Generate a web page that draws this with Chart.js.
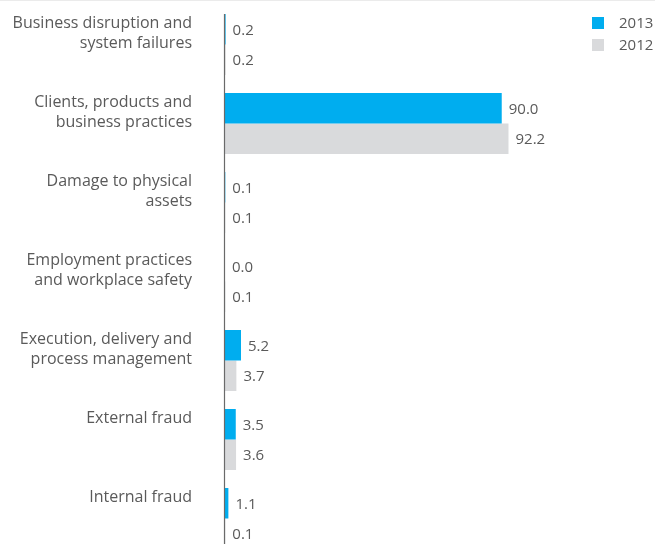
<!DOCTYPE html>
<html>
<head>
<meta charset="utf-8">
<script src="https://cdn.jsdelivr.net/npm/chart.js@4"></script>
<style>
	html, body { margin: 0; padding: 0; background: #fff; overflow: hidden; }
	#wrap { position: relative; width: 669px; height: 544px; overflow: hidden; }
	#topline { position: absolute; left: 0; top: 0; width: 655px; height: 1px; background: #ebebeb; }
	#chart-box { position: absolute; left: 0; top: 0; width: 669px; height: 560px; }
	#legend { position: absolute; left: 592px; top: 13px; font-family: "Open Sans", sans-serif; font-size: 15px; color: #5a5a5a; }
	#legend div { height: 22px; line-height: 18px; white-space: nowrap; }
	#legend span { display: inline-block; width: 12px; height: 12px; margin-right: 15px; vertical-align: -1px; }
</style>
</head>
<body>
<div id="wrap">
	<div id="topline"></div>
	<div id="chart-box"><canvas id="loss-chart"></canvas></div>
	<div id="legend"></div>
</div>
<script>
// categories, one array of lines per bar group (single lines padded so they sit at the top)
const categories = [
	['Business disruption and', 'system failures'],
	['Clients, products and', 'business practices'],
	['Damage to physical', 'assets'],
	['Employment practices', 'and workplace safety'],
	['Execution, delivery and', 'process management'],
	['External fraud', ''],
	['Internal fraud', '']
];
const seriesNames = ['2013', '2012'];
const values2013 = [0.2, 90.0, 0.1, 0.0, 5.2, 3.5, 1.1];
const values2012 = [0.2, 92.2, 0.1, 0.1, 3.7, 3.6, 0.1];
const seriesColors = ['#00adef', '#d9dadc'];

const textColor = '#5a5a5a';
const fontFamily = '"Open Sans", sans-serif';

// value labels at the end of each bar
const valueLabels = {
	id: 'valueLabels',
	afterDatasetsDraw(chart) {
		const ctx = chart.ctx;
		ctx.save();
		ctx.font = '15px ' + fontFamily;
		ctx.fillStyle = textColor;
		ctx.textAlign = 'left';
		ctx.textBaseline = 'middle';
		chart.data.datasets.forEach(function(ds, i) {
			chart.getDatasetMeta(i).data.forEach(function(bar, j) {
				ctx.fillText(ds.data[j].toFixed(1), bar.x + 7, bar.y + 1);
			});
		});
		ctx.restore();
	}
};

// vertical axis line, from the top of the first bar downwards
const zeroLine = {
	id: 'zeroLine',
	afterDatasetsDraw(chart) {
		const ctx = chart.ctx;
		const x = chart.scales.x.getPixelForValue(0);
		const first = chart.getDatasetMeta(0).data[0];
		ctx.save();
		ctx.strokeStyle = '#6a6a6a';
		ctx.lineWidth = 1.2;
		ctx.beginPath();
		ctx.moveTo(x - 0.5, first.y - first.height / 2);
		ctx.lineTo(x - 0.5, chart.height);
		ctx.stroke();
		ctx.restore();
	}
};

const chart = new Chart(document.getElementById('loss-chart'), {
	type: 'bar',
	plugins: [valueLabels, zeroLine],
	data: {
		labels: categories,
		datasets: [
			{ label: seriesNames[0], data: values2013, backgroundColor: seriesColors[0] },
			{ label: seriesNames[1], data: values2012, backgroundColor: seriesColors[1] }
		]
	},
	options: {
		indexAxis: 'y',
		responsive: true,
		maintainAspectRatio: false,
		animation: false,
		layout: { padding: { top: 5, bottom: 2, left: 0, right: 0 } },
		datasets: {
			bar: { categoryPercentage: 0.772, barPercentage: 1.0, borderWidth: 0 }
		},
		plugins: {
			legend: { display: false },
			tooltip: { enabled: false }
		},
		scales: {
			x: {
				display: false,
				min: 0,
				max: 144.4
			},
			y: {
				grid: { display: false },
				border: { display: false },
				afterFit: function(scale) {
					scale.width = 225;
					scale.paddingTop = 0;
					scale.paddingBottom = 0;
				},
				ticks: {
					padding: 25,
					labelOffset: -11,
					color: textColor,
					font: { family: fontFamily, size: 16, lineHeight: 1.22 }
				}
			}
		}
	}
});

// legend
var legendMarkup = '';
seriesNames.forEach(function(name, i) {
	legendMarkup += '<div><span style="background:' + seriesColors[i] + '"></span>' + name + '</div>';
});
document.getElementById('legend').innerHTML = legendMarkup;
</script>
</body>
</html>
